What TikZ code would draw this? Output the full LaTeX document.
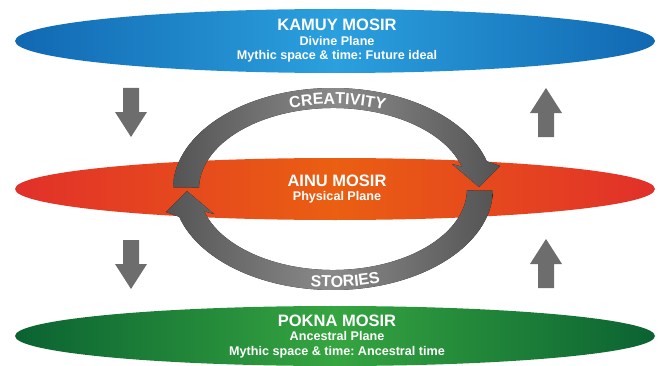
\documentclass[tikz,border=0pt]{standalone}
\usepackage{fontspec}
\setmainfont{Liberation Sans}
\usetikzlibrary{shapes,decorations.text}
\definecolor{blueedge}{HTML}{1168B2}
\definecolor{bluemid}{HTML}{2BA0DE}
\definecolor{rededge}{HTML}{E1302A}
\definecolor{redmid}{HTML}{EA5F12}
\definecolor{greenedge}{HTML}{0B6232}
\definecolor{greenmid}{HTML}{35A540}
\definecolor{ringdark}{HTML}{545454}
\definecolor{ringlight}{HTML}{8A8A8A}
\definecolor{arrowgray}{HTML}{6D6D6D}
\frenchspacing

\begin{document}
\begin{tikzpicture}
[
x=1pt, y=1pt,
plane/.style={ellipse, minimum width=640, minimum height=#1, inner sep=0pt},
planename/.style={text=white, anchor=base, inner sep=0pt, font=\fontsize{16.5}{18}\selectfont\bfseries},
planeline/.style={text=white, anchor=base, inner sep=0pt, font=\fontsize{12.6}{14}\selectfont\bfseries},
ring/.style={left color=ringdark, right color=ringdark, middle color=ringlight},
ringtext/.style={decorate, decoration={text along path, text align=center, text color=white, text={|\fontsize{16}{16}\selectfont\bfseries|#1}}},
vertarrow/.pic={\fill[arrowgray] (-8,0) -- (-8,-24) -- (-16,-24) -- (0,-49) -- (16,-24) -- (8,-24) -- (8,0) -- cycle;},
]
\useasboundingbox (0,0) rectangle (659,365);

% the three planes
\node[plane=64, left color=blueedge, right color=blueedge, middle color=bluemid] (kamuy) at (335,324) {};
\node[plane=60, left color=greenedge, right color=greenedge, middle color=greenmid] (pokna) at (335,29) {};
\node[plane=62, left color=rededge, right color=rededge, middle color=redmid] (ainu) at (335,176) {};

% cycle between creativity and stories
\begin{scope}[shift={(333,176)}]
\fill[ring] (179:160 and 101) arc[start angle=179, end angle=16, x radius=160, y radius=101]
  -- (167,23) -- (146,2) -- (119,25)
  -- (16:134 and 81) arc[start angle=16, end angle=179, x radius=134, y radius=81] -- cycle;
\fill[ring, rotate=180] (179:160 and 101) arc[start angle=179, end angle=16, x radius=160, y radius=101]
  -- (167,23) -- (146,2) -- (119,25)
  -- (16:134 and 81) arc[start angle=16, end angle=179, x radius=134, y radius=81] -- cycle;
\path[ringtext=CREATIVITY] (118:138 and 85) arc[start angle=118, end angle=58, x radius=138, y radius=85];
\path[ringtext=STORIES] (245:155 and 98) arc[start angle=245, end angle=305, x radius=155, y radius=98];
\end{scope}

\node[planename] (kamuyname) at (337,334) {KAMUY MOSIR};
\node[planeline] (kamuyplane) at (337,319) {Divine Plane};
\node[planeline] (kamuytime) at (337,305) {Mythic space \& time: Future ideal};

\node[planename] (ainuname) at (337,179) {AINU MOSIR};
\node[planeline] (ainuplane) at (337,165) {Physical Plane};

\node[planename] (poknaname) at (337,39) {POKNA MOSIR};
\node[planeline] (poknaplane) at (337,25) {Ancestral Plane};
\node[planeline] (poknatime) at (337,10) {Mythic space \& time: Ancestral time};

% flow arrows
\pic (down1) at (131,277) {vertarrow};
\pic (down2) at (131,125) {vertarrow};
\pic[rotate=180] (up1) at (546,228) {vertarrow};
\pic[rotate=180] (up2) at (546,77) {vertarrow};
\end{tikzpicture}
\end{document}
